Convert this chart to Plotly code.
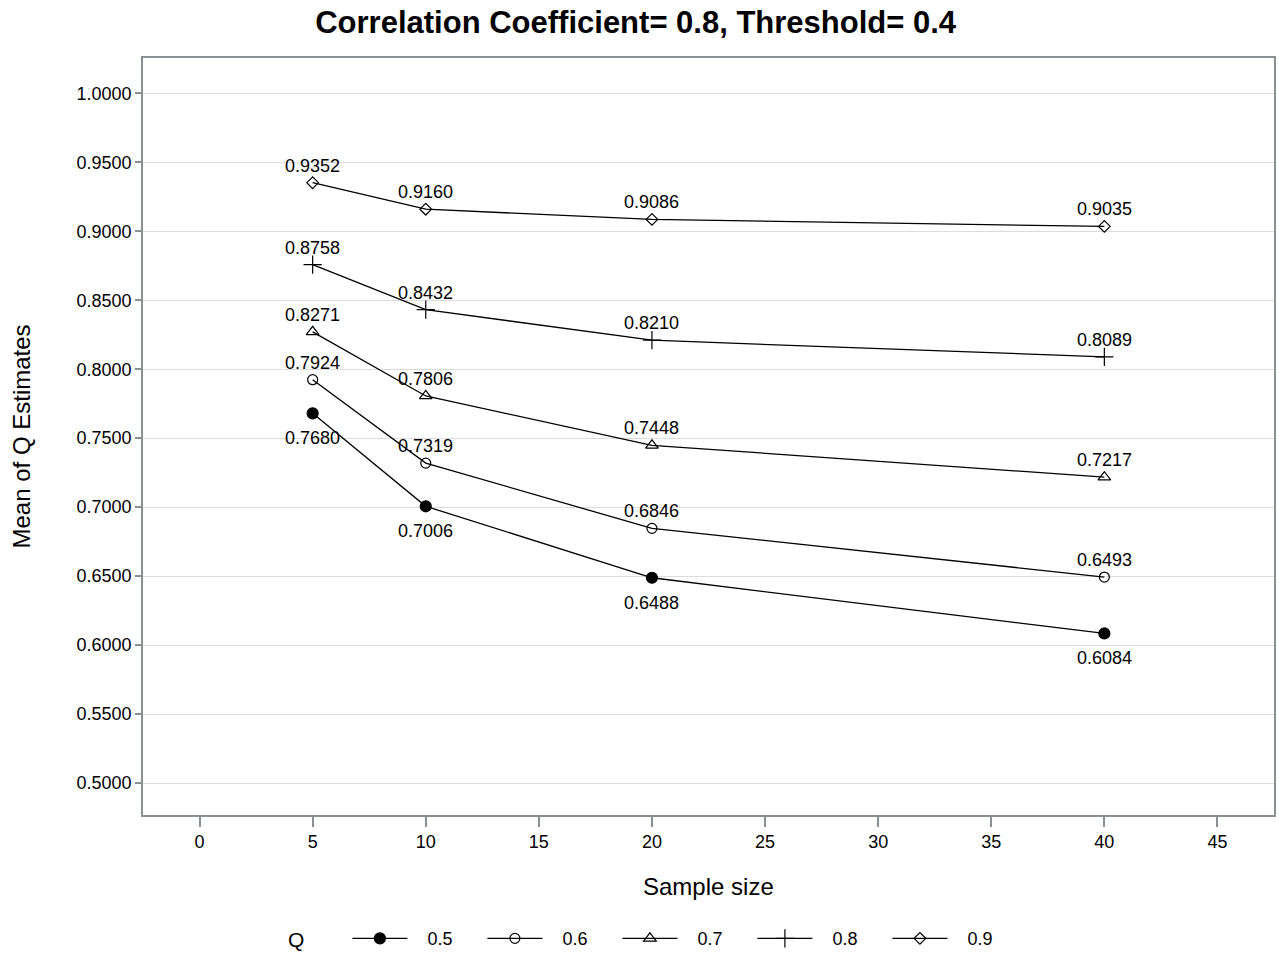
import plotly.graph_objects as go

sample_size = [5, 10, 20, 40]
q_levels = ["0.5", "0.6", "0.7", "0.8", "0.9"]
q05 = [0.7680, 0.7006, 0.6488, 0.6084]
q06 = [0.7924, 0.7319, 0.6846, 0.6493]
q07 = [0.8271, 0.7806, 0.7448, 0.7217]
q08 = [0.8758, 0.8432, 0.8210, 0.8089]
q09 = [0.9352, 0.9160, 0.9086, 0.9035]
x_ticks = [0, 5, 10, 15, 20, 25, 30, 35, 40, 45]
y_ticks = [0.50, 0.55, 0.60, 0.65, 0.70, 0.75, 0.80, 0.85, 0.90, 0.95, 1.00]

series = [q05, q06, q07, q08, q09]
symbols = ["circle", "circle-open", "triangle-up-open", "cross-thin-open", "diamond-open"]
sizes = [11, 10, 11, 13, 9]
label_shift = [-25, 17, 17, 17, 17]

NB = "\u00a0"
FONT = "Liberation Sans, Arial, sans-serif"
fig = go.Figure()
annotations = []
for name, ys, sym, sz, sh in zip(q_levels, series, symbols, sizes, label_shift):
    fig.add_trace(go.Scatter(
        x=sample_size, y=ys, name=NB * 3 + name, mode="lines+markers",
        line=dict(color="black", width=1.3),
        marker=dict(symbol=sym, size=sz, color="black", line=dict(color="black", width=1.2)),
    ))
    for xv, yv in zip(sample_size, ys):
        annotations.append(dict(
            x=xv, y=yv, xref="x", yref="y", text=f"{yv:.4f}", showarrow=False,
            yshift=sh, xanchor="center", yanchor="middle",
            font=dict(family=FONT, size=18, color="black")))

axis_common = dict(showline=True, linecolor="#8a8f94", linewidth=1.5, mirror=True,
                   ticks="outside", tickcolor="#8a8f94", tickwidth=1.5,
                   tickfont=dict(family=FONT, size=18, color="black"), zeroline=False)
fig.update_xaxes(range=[-2.5, 47.5], tickvals=x_ticks, ticklen=10, showgrid=False, **axis_common)
fig.update_yaxes(range=[0.4768, 1.0256], tickvals=y_ticks, tickformat=".4f", ticklen=6,
                 showgrid=True, gridcolor="#dcdcdc", gridwidth=1.3, **axis_common)

annotations += [
    dict(text="Sample size", xref="paper", yref="paper", x=0.5, y=-0.095,
         showarrow=False, font=dict(family=FONT, size=24), xanchor="center", yanchor="middle"),
    dict(text="Mean of Q Estimates", xref="paper", yref="paper", x=-0.107, y=0.5,
         textangle=-90, showarrow=False, font=dict(family=FONT, size=24),
         xanchor="center", yanchor="middle"),
]

fig.update_layout(
    width=1279, height=953,
    margin=dict(l=143, r=5, t=58, b=138, autoexpand=False),
    plot_bgcolor="white", paper_bgcolor="white",
    font=dict(family=FONT, color="black"),
    title=dict(text="<b>Correlation Coefficient= 0.8, Threshold= 0.4</b>",
               font=dict(family=FONT, size=31, color="black"),
               x=0.497, xanchor="center", y=0.977, yanchor="middle"),
    showlegend=True,
    legend=dict(orientation="h", x=0.1265, xanchor="left", y=-0.164, yanchor="middle",
                title=dict(text="Q" + NB * 6, font=dict(family=FONT, size=21)),
                font=dict(family=FONT, size=18), itemwidth=55,
                entrywidth=65, entrywidthmode="pixels", tracegroupgap=0),
    annotations=annotations,
)
fig.write_html("out.html", config={"displayModeBar": False},
               post_script="document.body.style.margin='0px';")
